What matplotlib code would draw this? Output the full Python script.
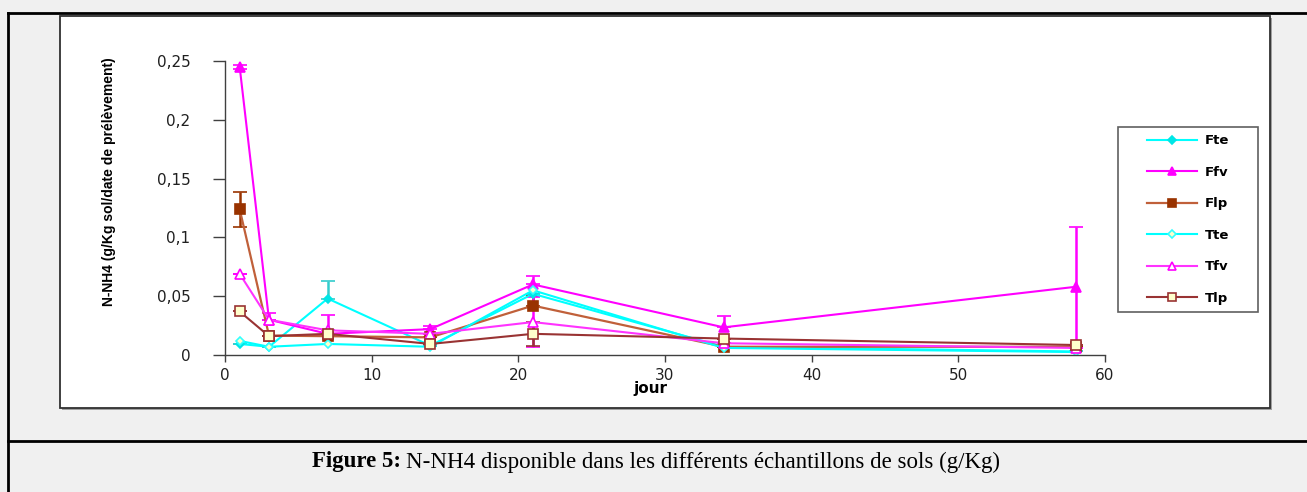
import numpy as np
import matplotlib
matplotlib.use('Agg')
import matplotlib.pyplot as plt
from matplotlib.patches import Rectangle
from matplotlib.lines import Line2D
from matplotlib.ticker import FuncFormatter

# jours de prelevement
jours = [1, 3, 7, 14, 21, 34, 58]

# N-NH4 (g/Kg) par echantillon
fte = [0.0094, 0.007, 0.048, 0.008, 0.052, 0.007, 0.003]
ffv = [0.245, 0.030, 0.018, 0.022, 0.060, 0.0235, 0.058]
flp = [0.124, 0.0165, 0.016, 0.015, 0.042, 0.007, 0.007]
tte = [0.012, 0.007, 0.0094, 0.007, 0.055, 0.006, 0.0025]
tfv = [0.069, 0.030, 0.021, 0.018, 0.028, 0.010, 0.006]
tlp = [0.037, 0.016, 0.018, 0.0094, 0.018, 0.014, 0.0085]

# barres d'erreur (bas, haut)
fte_lo = [0, 0, 0, 0, 0, 0, 0]
fte_hi = [0, 0, 0.015, 0, 0, 0, 0]
ffv_lo = [0.002, 0, 0, 0, 0, 0, 0.051]
ffv_hi = [0.002, 0.006, 0, 0.003, 0.007, 0.0095, 0.051]
flp_lo = [0.015, 0, 0, 0, 0, 0, 0]
flp_hi = [0.015, 0, 0, 0, 0.008, 0, 0]
tfv_lo = [0, 0, 0, 0, 0.021, 0, 0]
tfv_hi = [0, 0, 0.013, 0, 0.021, 0, 0]
tlp_lo = [0, 0, 0, 0, 0.01, 0, 0]
tlp_hi = [0, 0, 0, 0, 0.01, 0, 0]

W, H = 1307, 492
fig = plt.figure(figsize=(W/100, H/100), dpi=100)
fig.patch.set_facecolor('#f0f0f0')

def fx(px):
    return px/W
def fy(py):
    return 1-py/H

# cadre du document
fig.add_artist(Line2D([fx(8), 1.0], [fy(13), fy(13)], color='black', lw=2, zorder=-3))
fig.add_artist(Line2D([fx(8), fx(8)], [fy(13), 0], color='black', lw=2, zorder=-3))
fig.add_artist(Line2D([fx(8), 1.0], [fy(441), fy(441)], color='black', lw=2, zorder=-3))

# cadre du graphique (avec ombre)
fig.add_artist(Rectangle((fx(62), fy(410)), fx(1270)-fx(60), fy(16)-fy(408),
                         facecolor='#a0a0a0', edgecolor='none', zorder=-2))
fig.add_artist(Rectangle((fx(60), fy(408)), fx(1270)-fx(60), fy(16)-fy(408),
                         facecolor='white', edgecolor='#303030', lw=1.3, zorder=-1))
# cadre de la legende
fig.add_artist(Rectangle((fx(1118), fy(312)), fx(1258)-fx(1118), fy(127)-fy(312),
                         facecolor='white', edgecolor='#606060', lw=1.2, zorder=-0.5))

ax = fig.add_axes([fx(225), fy(355), fx(1105)-fx(225), fy(61)-fy(355)])
ax.set_facecolor('none')

tfont = 'DejaVu Sans'
handles = []

def serie(y, lo, hi, color, ecolor, marker, mfc, mec, ms, label, lw=1.5):
    style = dict(color=color, lw=lw, marker=marker, mfc=mfc, mec=mec, ms=ms, mew=1.2)
    ax.errorbar(jours, y, yerr=[lo, hi] if lo is not None else None,
                ecolor=ecolor, elinewidth=1.8, capsize=5, capthick=1.6, **style)
    handles.append(Line2D([], [], label=label, **style))

serie(fte, fte_lo, fte_hi, '#00ffff', '#33cccc', 'D', '#00e6e6', '#00e6e6', 4.5, 'Fte')
serie(ffv, ffv_lo, ffv_hi, '#ff00ff', '#ff00ff', '^', '#ff00ff', '#ff00ff', 7, 'Ffv')
serie(flp, flp_lo, flp_hi, '#c0603a', '#993300', 's', '#993300', '#993300', 7, 'Flp', lw=1.6)
serie(tte, None, None, '#00ffff', '#00ffff', 'D', '#ffffcc', '#33ffff', 4.5, 'Tte')
serie(tfv, tfv_lo, tfv_hi, '#ff33ff', '#ff00ff', '^', 'white', '#ff00ff', 7, 'Tfv')
serie(tlp, tlp_lo, tlp_hi, '#993333', '#993333', 's', '#ffffcc', '#993333', 7.5, 'Tlp')

ax.set_xlim(0, 60)
ax.set_ylim(0, 0.25)
ax.set_xticks(np.arange(0, 61, 10))
ax.set_yticks([0, 0.05, 0.1, 0.15, 0.2, 0.25])
ax.yaxis.set_major_formatter(FuncFormatter(lambda v, p: ('%g' % round(v, 2)).replace('.', ',')))
for s in ['top', 'right']:
    ax.spines[s].set_visible(False)
for s in ['left', 'bottom']:
    ax.spines[s].set_color('#404040')
    ax.spines[s].set_linewidth(1.0)
ax.tick_params(axis='y', length=9, width=1, color='#404040', pad=16, labelsize=11)
ax.tick_params(axis='x', length=5, width=1, color='#404040', pad=4, labelsize=11)
for t in ax.get_xticklabels() + ax.get_yticklabels():
    t.set_fontfamily(tfont)
    t.set_color('#202020')

fig.text(fx(650), fy(388), 'jour', ha='center', va='center', fontsize=11,
         fontweight='bold', family=tfont)
fig.text(fx(109), fy(182), 'N-NH4 (g/Kg sol/date de prélèvement)', rotation=90,
         ha='center', va='center', fontsize=10, fontweight='bold', family='Liberation Sans')

leg = fig.legend(handles=handles, loc='center',
                 bbox_to_anchor=(fx(1118), fy(312), fx(1258)-fx(1118), fy(127)-fy(312)),
                 frameon=False, handlelength=3.8, markerscale=0.85,
                 labelspacing=1.4, borderpad=0.5, handletextpad=0.6,
                 prop={'family': tfont, 'weight': 'bold', 'size': 9.5})

# legende de la figure
cap1 = fig.text(0, fy(462), 'Figure 5:', ha='left', va='center', fontsize=16.5,
                fontweight='bold', family='Liberation Serif')
cap2 = fig.text(0, fy(462), 'N-NH4 disponible dans les différents échantillons de sols (g/Kg)',
                ha='left', va='center', fontsize=16.5, family='Liberation Serif')
fig.canvas.draw()
r = fig.canvas.get_renderer()
w1 = cap1.get_window_extent(r).width
w2 = cap2.get_window_extent(r).width
x0 = 656 - (w1 + 5 + w2)/2
cap1.set_x(x0/W)
cap2.set_x((x0 + w1 + 5)/W)

fig.savefig('out.png', dpi=100, facecolor=fig.get_facecolor())
